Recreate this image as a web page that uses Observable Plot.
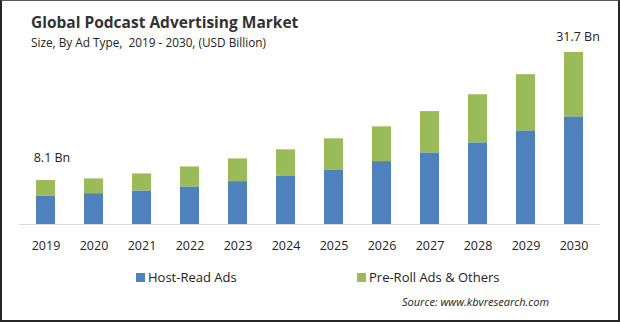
<!DOCTYPE html>
<html><head><meta charset="utf-8">
<script src="https://cdn.jsdelivr.net/npm/d3@7"></script>
<script src="https://cdn.jsdelivr.net/npm/@observablehq/plot@0.6"></script>
<style>
body{margin:0;background:#fff;}
#wrap{position:relative;width:620px;height:322px;overflow:hidden;font-family:"Open Sans",sans-serif;color:#222;background:#fff;}
#wrap svg{position:absolute;left:0;top:0;}
.frame{position:absolute;left:0;top:0;width:620px;height:322px;box-sizing:border-box;border:2px solid #262626;border-top:1px solid #555;pointer-events:none;}
.title{position:absolute;left:31px;top:11px;font-weight:700;font-size:15.5px;color:#333;white-space:pre;}
.subtitle{position:absolute;left:31px;top:34px;font-size:11.8px;color:#222;white-space:pre;}
.legend{position:absolute;top:268px;font-size:13px;white-space:nowrap;display:flex;align-items:center;}
.legend span.sw{display:inline-block;width:9px;height:9px;margin-right:3px;}
.source{position:absolute;left:402px;top:294px;font-size:11px;font-style:italic;white-space:nowrap;color:#222;}
</style></head><body><div id="wrap"></div>
<script>
const years = [2019, 2020, 2021, 2022, 2023, 2024, 2025, 2026, 2027, 2028, 2029, 2030];
const hostRead = [5.26, 5.68, 6.18, 6.92, 7.9, 8.95, 10.06, 11.59, 13.19, 15.04, 17.25, 19.83];
const preRoll = [2.84, 2.72, 3.14, 3.68, 4.18, 4.8, 5.72, 6.4, 7.61, 8.86, 10.35, 11.87];
const seriesNames = ["Host-Read Ads", "Pre-Roll Ads & Others"];
const seriesColors = ["#4f81bd", "#9bbb59"];
const labelYears = [2019, 2030];
const labelValues = [8.1, 31.7];
const labelTexts = ["8.1 Bn", "31.7 Bn"];

const rows = [];
years.forEach((y, i) => {
  rows.push({year: String(y), type: seriesNames[0], value: hostRead[i]});
  rows.push({year: String(y), type: seriesNames[1], value: preRoll[i]});
});
const labels = labelYears.map((y, i) => ({year: String(y), value: labelValues[i], text: labelTexts[i]}));

const chart = Plot.plot({
  width: 620,
  height: 322,
  marginLeft: 19,
  marginRight: 20,
  marginTop: 34,
  marginBottom: 98,
  style: {fontFamily: "Open Sans, sans-serif", fontSize: "12.5px", background: "transparent"},
  x: {type: "band", domain: years.map(String), paddingInner: 0.6, paddingOuter: 0.3, label: null},
  y: {domain: [0, 35], axis: null},
  color: {domain: seriesNames, range: seriesColors},
  marks: [
    Plot.barY(rows, {x: "year", y: "value", fill: "type"}),
    Plot.ruleY([0], {stroke: "#d9d9d9", strokeWidth: 1}),
    Plot.axisX({tickSize: 0, tickPadding: 17, fontSize: 12.5, fill: "#222", label: null}),
    Plot.text([labels[0]], {x: "year", y: "value", text: "text", dx: 6, dy: -23, fontSize: 12.5, fill: "#222"}),
    Plot.text([labels[1]], {x: "year", y: "value", text: "text", dx: 4, dy: -15, fontSize: 12.5, fill: "#222"})
  ]
});
const wrap = document.getElementById("wrap");
wrap.appendChild(chart);

function addDiv(cls, text, css) {
  const d = document.createElement("div");
  d.className = cls;
  if (text !== null) d.textContent = text;
  if (css) Object.assign(d.style, css);
  wrap.appendChild(d);
  return d;
}
addDiv("title", "Global Podcast Advertising Market");
addDiv("subtitle", "Size, By Ad Type,  2019 - 2030, (USD Billion)");
const legendX = [136, 357];
seriesNames.forEach((n, i) => {
  const d = addDiv("legend", null, {left: legendX[i] + "px"});
  const sw = document.createElement("span");
  sw.className = "sw";
  sw.style.background = seriesColors[i];
  d.appendChild(sw);
  d.appendChild(document.createTextNode(n));
});
addDiv("source", "Source: www.kbvresearch.com");
addDiv("frame", null);
</script></body></html>
